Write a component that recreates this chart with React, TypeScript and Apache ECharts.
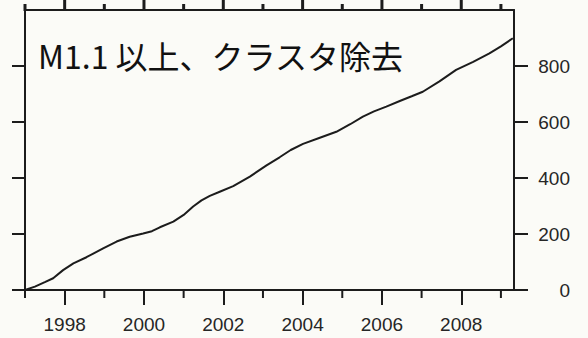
import React, { useEffect, useRef } from "react";
import * as echarts from "echarts";

const years = [
  1997.0, 1997.25, 1997.5, 1997.71, 1997.96, 1998.22, 1998.55, 1998.97, 1999.31, 1999.64,
  1999.98, 2000.2, 2000.4, 2000.74, 2001.0, 2001.24, 2001.45, 2001.66, 2001.91, 2002.25,
  2002.67, 2003.09, 2003.42, 2003.7, 2004.01, 2004.4, 2004.85, 2005.2, 2005.52, 2005.8,
  2006.11, 2006.45, 2006.75, 2007.03, 2007.45, 2007.87, 2008.3, 2008.71, 2009.0, 2009.3,
];
const counts = [
  0, 12, 28, 42, 71, 95, 117, 149, 173, 190,
  202, 210, 224, 244, 268, 298, 320, 336, 351, 371,
  405, 445, 474, 500, 522, 542, 565, 592, 619, 638,
  655, 675, 692, 708, 745, 786, 815, 845, 870, 899,
];
const majorYears = [1998, 2000, 2002, 2004, 2006, 2008];
const minorYears = [1997, 1999, 2001, 2003, 2005, 2007, 2009];
const yTicks = [0, 200, 400, 600, 800];
const titleText = "M1.1 以上、クラスタ除去";

const X_MIN = 1997;
const X_MAX = 2009.33;
const Y_MAX = 1000;
const INK = "#1c1c1c";

export default function App() {
  const ref = useRef<HTMLDivElement>(null);
  useEffect(() => {
    document.body.style.margin = "0";
    const chart = echarts.init(ref.current!, null, { renderer: "svg" });
    const axisLineStyle = { color: INK, width: 2 };
    const tickStyle = { color: INK, width: 2 };
    const labelStyle = {
      color: "#262626",
      fontFamily: '"Liberation Sans", Arial, sans-serif',
      fontSize: 19,
    };
    const baseX = {
      type: "value" as const,
      min: X_MIN,
      max: X_MAX,
      splitLine: { show: false },
    };
    const tickData = [
      ...majorYears.map((y) => [y, 1]),
      ...minorYears.map((y) => [y, 0]),
    ];
    chart.setOption({
      animation: false,
      backgroundColor: "#fbfbf7",
      grid: { left: 25, top: 10, right: 74, bottom: 48, containLabel: false },
      xAxis: [
        {
          ...baseX,
          position: "bottom",
          axisLine: { show: true, onZero: false, lineStyle: axisLineStyle },
          axisTick: { show: true, length: 15, lineStyle: tickStyle, customValues: majorYears },
          axisLabel: {
            show: true,
            margin: 25,
            customValues: majorYears,
            formatter: (v: number) => String(Math.round(v)),
            ...labelStyle,
          },
        },
        {
          ...baseX,
          position: "top",
          axisLine: { show: true, onZero: false, lineStyle: axisLineStyle },
          axisTick: { show: false },
          axisLabel: { show: false },
        },
      ],
      yAxis: [
        {
          type: "value",
          position: "left",
          min: 0,
          max: Y_MAX,
          interval: 200,
          splitLine: { show: false },
          axisLine: { show: true, onZero: false, lineStyle: axisLineStyle },
          axisTick: { show: true, length: 13, lineStyle: tickStyle, customValues: yTicks },
          axisLabel: { show: false },
        },
        {
          type: "value",
          position: "right",
          min: 0,
          max: Y_MAX,
          interval: 200,
          splitLine: { show: false },
          axisLine: { show: true, onZero: false, lineStyle: axisLineStyle },
          axisTick: { show: true, length: 14, lineStyle: tickStyle, customValues: yTicks },
          axisLabel: {
            show: true,
            customValues: yTicks,
            align: "right",
            margin: 56,
            ...labelStyle,
          },
        },
      ],
      graphic: [
        {
          type: "text",
          left: 38,
          top: 39,
          style: {
            text: titleText,
            font: '32px "Noto Sans CJK JP"',
            fill: "#111",
          },
        },
      ],
      series: [
        {
          type: "line",
          xAxisIndex: 0,
          yAxisIndex: 0,
          showSymbol: false,
          lineStyle: { color: INK, width: 2 },
          data: years.map((y, i) => [y, counts[i]]),
        },
        {
          // top ticks (outward) and bottom minor ticks
          type: "custom",
          xAxisIndex: 0,
          yAxisIndex: 0,
          clip: false,
          silent: true,
          z: 5,
          data: tickData,
          renderItem: (params: any, api: any) => {
            const yr = api.value(0);
            const major = api.value(1) === 1;
            const top = api.coord([yr, Y_MAX]);
            const bot = api.coord([yr, 0]);
            const children: any[] = [
              {
                type: "line",
                shape: {
                  x1: top[0],
                  y1: top[1] + 1,
                  x2: top[0],
                  y2: major ? 0 : top[1] - 6,
                },
                style: { stroke: INK, lineWidth: 3 },
              },
            ];
            if (!major) {
              children.push({
                type: "line",
                shape: { x1: bot[0], y1: bot[1], x2: bot[0], y2: bot[1] + 8 },
                style: { stroke: INK, lineWidth: 2 },
              });
            }
            return { type: "group", children };
          },
        },
      ],
    });
    return () => chart.dispose();
  }, []);
  return <div ref={ref} style={{ width: 588, height: 338 }} />;
}
